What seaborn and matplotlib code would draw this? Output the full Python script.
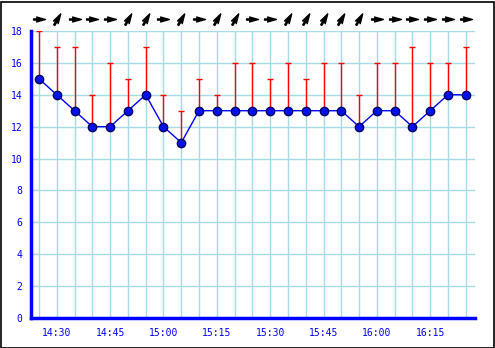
import matplotlib
matplotlib.use("Agg")
import matplotlib.pyplot as plt
from matplotlib.path import Path
from matplotlib.transforms import Affine2D
from matplotlib.patches import Rectangle
import seaborn as sns
import pandas as pd
import numpy as np

times = ["14:25", "14:30", "14:35", "14:40", "14:45", "14:50", "14:55", "15:00", "15:05",
         "15:10", "15:15", "15:20", "15:25", "15:30", "15:35", "15:40", "15:45", "15:50",
         "15:55", "16:00", "16:05", "16:10", "16:15", "16:20", "16:25"]
speed = [15, 14, 13, 12, 12, 13, 14, 12, 11, 13, 13, 13, 13, 13, 13, 13, 13, 13, 12, 13, 13, 12, 13, 14, 14]
gust = [18, 17, 17, 14, 16, 15, 17, 14, 13, 15, 14, 16, 16, 15, 16, 15, 16, 16, 14, 16, 16, 17, 16, 16, 17]
# arrow heading in degrees (0 = pointing right)
wind_dir = [0, 60, 0, 0, 0, 60, 60, 0, 60, 0, 60, 60, 0, 0, 60, 60, 60, 60, 60, 0, 0, 0, 0, 0, 0]
x_labels = ["14:30", "14:45", "15:00", "15:15", "15:30", "15:45", "16:00", "16:15"]
y_ticks = [0, 2, 4, 6, 8, 10, 12, 14, 16, 18]

t0 = pd.to_datetime(times[0], format="%H:%M")
mins = [(pd.to_datetime(t, format="%H:%M") - t0).total_seconds() / 60 for t in times]
df = pd.DataFrame({"min": mins, "speed": speed, "gust": gust, "dir": wind_dir})
tick_text = [t if t in x_labels else "" for t in times]

sns.set_style("white")
W, H = 495, 348
fig = plt.figure(figsize=(W / 100, H / 100), dpi=100)
fig.patch.set_facecolor("white")
ax = fig.add_axes([31 / W, (H - 318) / H, (475 - 31) / W, (318 - 31) / H])

blue = "#0000ff"
grid_c = "#a8dbe6"

ax.set_xlim(-2.25, 122.6)
ax.set_ylim(0, 18)

# grid
for m in df["min"]:
    ax.axvline(m, color=grid_c, lw=1, zorder=0)
for yv in y_ticks[1:]:
    ax.axhline(yv, color=grid_c, lw=1, zorder=0)

# gusts
ax.vlines(df["min"], df["speed"], df["gust"], color="#ff0000", lw=1, zorder=2)
ax.scatter(df["min"], df["gust"], marker="_", s=25, color="#ff0000", linewidths=1, zorder=2)

# speed
sns.lineplot(data=df, x="min", y="speed", ax=ax, color=blue, lw=1, marker="o",
             markersize=6, markerfacecolor="#0010ee", markeredgecolor="#000060",
             markeredgewidth=1, zorder=3)

# wind direction arrows
verts = [(1.0, 0.0), (-0.5, 0.42), (-0.2, 0.0), (-0.5, -0.42), (1.0, 0.0),
         (-1.0, -0.1), (-0.2, -0.1), (-0.2, 0.1), (-1.0, 0.1), (-1.0, -0.1)]
codes = [Path.MOVETO, Path.LINETO, Path.LINETO, Path.LINETO, Path.CLOSEPOLY,
         Path.MOVETO, Path.LINETO, Path.LINETO, Path.LINETO, Path.CLOSEPOLY]
base = Path(verts, codes)
trans = ax.get_xaxis_transform()
for m, d in zip(df["min"], df["dir"]):
    p = Affine2D().rotate_deg(d).transform_path(base)
    ax.plot([m], [1.042], marker=p, markersize=8.5, color="black", transform=trans,
            clip_on=False, linestyle="none")

# axes style
for s in ["top", "right"]:
    ax.spines[s].set_visible(False)
for s in ["left", "bottom"]:
    ax.spines[s].set_color(blue)
    ax.spines[s].set_linewidth(2.5)
ax.set_xticks(df["min"])
ax.set_xticklabels(tick_text)
ax.tick_params(axis="x", direction="in", length=4, width=1, color=blue, pad=7,
               labelsize=7, labelcolor=blue)
ax.set_yticks(y_ticks)
ax.set_yticklabels([str(v) for v in y_ticks])
ax.tick_params(axis="y", direction="in", length=5, width=1, color=blue, pad=6,
               labelsize=7, labelcolor=blue)
for lab in ax.get_xticklabels() + ax.get_yticklabels():
    lab.set_family("DejaVu Sans Mono")
ax.set_xlabel("")
ax.set_ylabel("")

fig.patches.append(Rectangle((0.5 / W, 0.5 / H), (W - 2) / W, (H - 2) / H,
                             transform=fig.transFigure, fill=False, edgecolor="black",
                             lw=1.2, zorder=10))

fig.savefig("out.png", dpi=100)
